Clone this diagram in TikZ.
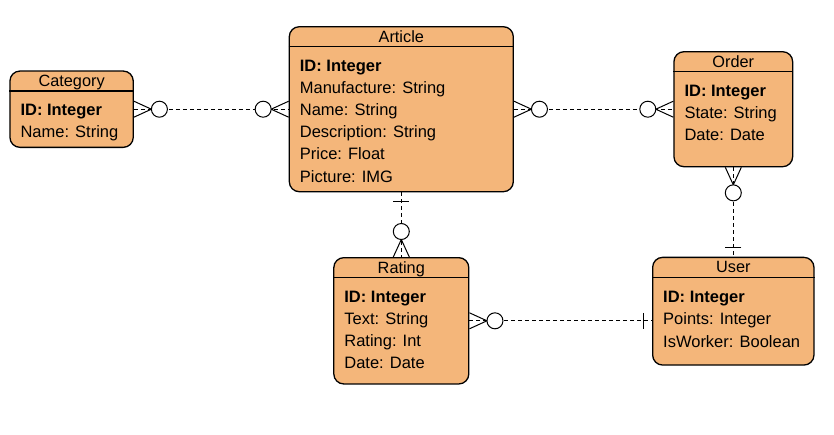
\documentclass[tikz,border=0pt]{standalone}
\usepackage{fontspec}
\setmainfont{Liberation Sans}
\definecolor{entfill}{HTML}{F4B67A}

\begin{document}
\begin{tikzpicture}[x=1pt, y=-1pt,
  entity/.style={draw=black, line width=1.3pt, fill=entfill,
                 rounded corners=10pt, inner sep=0pt},
  hline/.style={draw=black, line width=1.3pt},
  etitle/.style={anchor=base, inner sep=0pt, font=\fontsize{16.3}{19}\selectfont},
  attrs/.style={anchor=north west, align=left, inner sep=0pt,
                font=\fontsize{16.5}{22.2}\selectfont},
  rel/.style={dash pattern=on 4pt off 3pt, line width=1pt},
  crow/.style={line width=1pt},
  manyopt/.pic={
    \draw[crow] (0,8) -- (17.5,0) -- (0,-8);
    \draw[crow, fill=white] (25.5,0) circle[radius=8pt];
  },
  onebar/.pic={\draw[crow] (9,8) -- (9,-8);}
]
\useasboundingbox (0,0) rectangle (834,434);

\node[entity, minimum width=123.3pt, minimum height=76.3pt] (cat) at (71.6,109.2) {};
\node[entity, minimum width=224pt,   minimum height=165pt]  (art) at (401.3,109.2) {};
\node[entity, minimum width=118.7pt, minimum height=115pt]  (ord) at (733.3,109.2) {};
\node[entity, minimum width=135pt,   minimum height=126.3pt](rat) at (401.3,320.8) {};
\node[entity, minimum width=161.3pt, minimum height=107.7pt](usr) at (733.3,311.2) {};

\foreach \e/\t in {cat/Category, art/Article, ord/Order, rat/Rating, usr/User}{
  \draw[hline] ([yshift=-20.5pt]\e.north west) -- ([yshift=-20.5pt]\e.north east);
  \node[etitle] at ([yshift=-16pt]\e.north) {\t};
}

\node[attrs] (catattr) at ([shift={(11pt,-33.5pt)}]cat.north west)
  {\textbf{ID: Integer}\\Name: String};
\node[attrs] (artattr) at ([shift={(11pt,-33.5pt)}]art.north west)
  {\textbf{ID: Integer}\\Manufacture: String\\Name: String\\Description: String\\Price: Float\\Picture: IMG};
\node[attrs] (ordattr) at ([shift={(11pt,-33.5pt)}]ord.north west)
  {\textbf{ID: Integer}\\State: String\\Date: Date};
\node[attrs] (ratattr) at ([shift={(11pt,-33.5pt)}]rat.north west)
  {\textbf{ID: Integer}\\Text: String\\Rating: Int\\Date: Date};
\node[attrs] (usrattr) at ([shift={(11pt,-34.5pt)}]usr.north west)
  {\textbf{ID: Integer}\\Points: Integer\\IsWorker: Boolean};

\draw[rel] (cat.east) -- (art.west);
\draw[rel] (art.east) -- (ord.west);
\draw[rel] (art.south) -- (rat.north);
\draw[rel] (ord.south) -- (usr.north);
\draw[rel] (rat.east) -- (rat.east -| usr.west);

\pic at (cat.east) {manyopt};
\pic[rotate=180] at (art.west) {manyopt};
\pic at (art.east) {manyopt};
\pic[rotate=180] at (ord.west) {manyopt};
\pic[rotate=90] at (rat.north) {manyopt};
\pic[rotate=-90] at (ord.south) {manyopt};
\pic at (rat.east) {manyopt};
\pic[rotate=-90] at (art.south) {onebar};
\pic[rotate=90] at (usr.north) {onebar};
\pic[rotate=180] at (rat.east -| usr.west) {onebar};
\end{tikzpicture}
\end{document}
